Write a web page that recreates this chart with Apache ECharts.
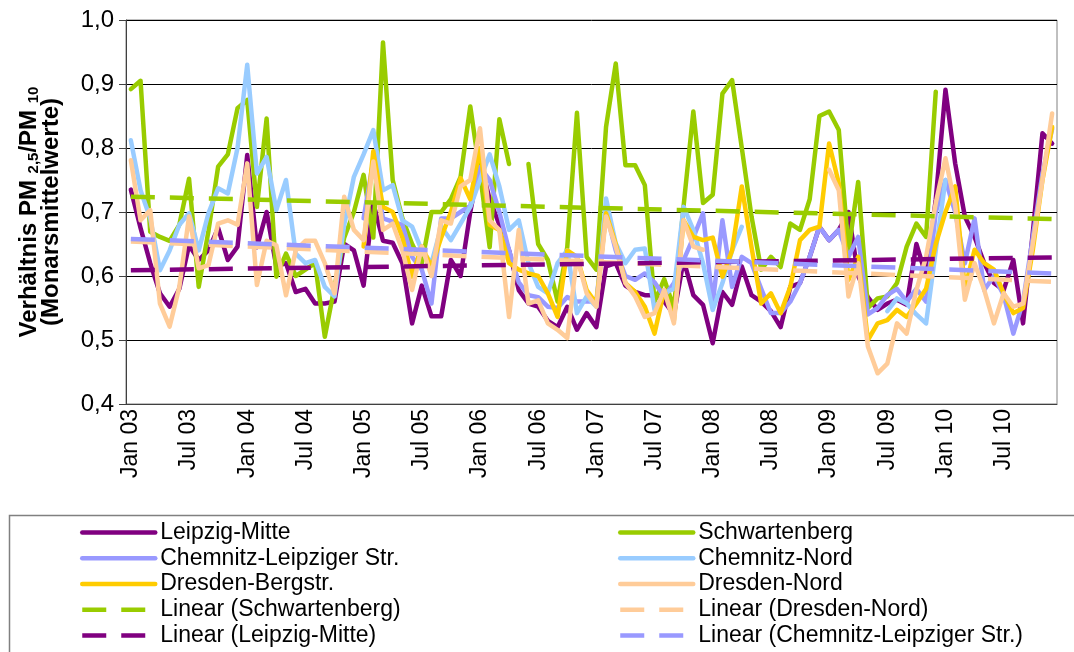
<!DOCTYPE html>
<html>
<head>
<meta charset="utf-8">
<script src="https://cdn.jsdelivr.net/npm/echarts@6/dist/echarts.min.js"></script>
<style>
  html, body { margin: 0; padding: 0; background: #fff; }
  #chart { width: 1074px; height: 652px; }
</style>
</head>
<body>
<div id="chart"></div>
<script>
// Monthly categories Jan 03 .. Dez 10
const monthNames = ['Jan', 'Feb', 'Mrz', 'Apr', 'Mai', 'Jun', 'Jul', 'Aug', 'Sep', 'Okt', 'Nov', 'Dez'];
const yearLabels = ['03', '04', '05', '06', '07', '08', '09', '10'];
const categories = [];
yearLabels.forEach(function (y) { monthNames.forEach(function (m) { categories.push(m + ' ' + y); }); });

// y-axis range of the ratio
const yMin = 0.4;
const yMax = 1.0;
const yStep = 0.1;

// PM2.5/PM10 monthly ratios per station (one row per year)
const leipzigMitte = [
  0.735, 0.675, 0.62, 0.573, 0.552, 0.58, 0.648, 0.625, 0.64, 0.675, 0.625, 0.646,
  0.789, 0.645, 0.70, 0.615, 0.62, 0.575, 0.58, 0.557, 0.557, 0.56, 0.65, 0.64,
  0.585, 0.714, 0.655, 0.652, 0.62, 0.526, 0.585, 0.537, 0.537, 0.625, 0.60, 0.70,
  0.78, 0.72, 0.68, 0.64, 0.578, 0.557, 0.552, 0.53, 0.52, 0.552, 0.516, 0.542,
  0.52, 0.615, 0.62, 0.585, 0.575, 0.57, 0.57, 0.56, 0.54, 0.625, 0.57, 0.555,
  0.495, 0.575, 0.555, 0.615, 0.57, 0.56, 0.545, 0.52, 0.583, 0.589, 0.63, 0.677,
  0.656, 0.672, 0.70, 0.60, 0.567, 0.547, 0.557, 0.563, 0.555, 0.65, 0.60, 0.72,
  0.891, 0.776, 0.693, 0.661, 0.62, 0.589, 0.578, 0.625, 0.526, 0.667, 0.823, 0.807
];
const schwartenberg = [
  0.892, 0.905, 0.669, 0.661, 0.655, 0.68, 0.752, 0.583, 0.67, 0.771, 0.79, 0.862,
  0.875, 0.708, 0.846, 0.599, 0.635, 0.60, 0.61, 0.62, 0.505, 0.583, 0.66, 0.70,
  0.758, 0.66, 0.965, 0.75, 0.69, 0.65, 0.62, 0.70, 0.70, 0.72, 0.755, 0.865,
  0.76, 0.645, 0.845, 0.775, null, 0.775, 0.65, 0.625, 0.56, 0.645, 0.855, 0.63,
  0.61, 0.833, 0.932, 0.773, 0.773, 0.742, 0.56, 0.595, 0.55, 0.71, 0.857, 0.714,
  0.727, 0.885, 0.906, 0.80, 0.693, 0.61, 0.63, 0.614, 0.682, 0.672, 0.72, 0.85,
  0.857, 0.828, 0.64, 0.747, 0.55, 0.565, 0.568, 0.589, 0.646, 0.682, 0.661, 0.888,
  null, null, null, null, null, null, null, null, null, null, null, null
];
const chemnitzLeipzigerStr = [
  null, null, null, null, null, null, null, null, null, null, null, null,
  null, null, null, null, null, null, null, null, null, null, null, null,
  0.69, 0.78, 0.69, 0.685, 0.68, 0.63, 0.61, 0.557, 0.69, 0.69, 0.70, 0.71,
  0.77, 0.75, 0.70, 0.64, 0.59, 0.57, 0.567, 0.552, 0.55, 0.567, 0.56, 0.56,
  0.56, 0.70, 0.64, 0.60, 0.594, 0.604, 0.59, 0.568, 0.589, 0.625, 0.66, 0.698,
  0.557, 0.687, 0.583, 0.63, 0.62, 0.58, 0.542, 0.542, 0.56, 0.589, 0.63, 0.677,
  0.656, 0.672, 0.63, 0.661, 0.54, 0.55, 0.57, 0.58, 0.56, 0.58, 0.56, 0.70,
  0.75, 0.70, 0.62, 0.69, 0.578, 0.60, 0.57, 0.51, 0.56, 0.66, 0.76, 0.83
];
const chemnitzNord = [
  0.812, 0.734, 0.69, 0.609, 0.64, 0.68, 0.698, 0.64, 0.698, 0.737, 0.729, 0.80,
  0.93, 0.76, 0.786, 0.703, 0.75, 0.635, 0.62, 0.625, 0.583, 0.568, 0.68, 0.755,
  0.79, 0.828, 0.734, 0.742, 0.687, 0.677, 0.64, 0.62, 0.677, 0.656, 0.682, 0.708,
  0.75, 0.79, 0.74, 0.672, 0.687, 0.62, 0.583, 0.573, 0.62, 0.64, 0.542, 0.568,
  0.552, 0.721, 0.651, 0.62, 0.641, 0.643, 0.547, 0.573, 0.58, 0.708, 0.672, 0.62,
  0.547, 0.589, 0.64, 0.677, null, null, null, null, null, null, null, null,
  null, null, null, null, null, null, 0.545, 0.565, 0.557, 0.54, 0.526, 0.64,
  0.75, null, null, null, null, null, null, null, null, null, null, null
];
const dresdenBergstr = [
  null, null, null, null, null, null, null, null, null, null, null, null,
  null, null, null, null, null, null, null, null, null, null, null, null,
  0.646, 0.795, 0.708, 0.70, 0.66, 0.599, 0.646, 0.614, 0.66, 0.70, 0.753, 0.72,
  0.80, 0.68, 0.672, 0.62, 0.61, 0.604, 0.60, 0.573, 0.536, 0.64, 0.63, 0.578,
  0.557, 0.698, 0.65, 0.589, 0.575, 0.552, 0.51, 0.578, 0.531, 0.687, 0.661, 0.656,
  0.66, 0.599, 0.64, 0.74, 0.645, 0.557, 0.573, 0.542, 0.583, 0.656, 0.672, 0.677,
  0.807, 0.745, 0.594, 0.63, 0.50, 0.526, 0.531, 0.547, 0.536, 0.557, 0.58, 0.65,
  0.70, 0.74, 0.58, 0.641, 0.62, 0.61, 0.573, 0.542, 0.55, 0.64, 0.75, 0.833
];
const dresdenNord = [
  0.781, 0.687, 0.703, 0.557, 0.521, 0.583, 0.693, 0.612, 0.617, 0.682, 0.687, 0.68,
  0.776, 0.586, 0.655, 0.648, 0.57, 0.64, 0.655, 0.655, 0.62, 0.573, 0.724, 0.672,
  0.656, 0.779, 0.672, 0.682, 0.64, 0.578, 0.646, 0.60, 0.687, 0.682, 0.74, 0.75,
  0.831, 0.687, 0.672, 0.536, 0.672, 0.557, 0.562, 0.526, 0.516, 0.503, 0.63, 0.573,
  0.552, 0.693, 0.646, 0.589, 0.568, 0.536, 0.542, 0.578, 0.526, 0.687, 0.646, 0.641,
  null, null, null, null, null, null, null, null, null, null, null, null,
  0.766, 0.734, 0.568, 0.62, 0.49, 0.448, 0.463, 0.526, 0.51, 0.578, 0.63, 0.714,
  0.784, 0.71, 0.563, 0.62, 0.578, 0.526, 0.573, 0.552, 0.557, 0.65, 0.75, 0.854
];

// Linear trends: value at the first and at the last month
const trendSchwartenberg = [0.724, 0.689];
const trendDresdenNord = [0.654, 0.591];
const trendLeipzigMitte = [0.609, 0.629];
const trendChemnitzLeipzigerStr = [0.658, 0.604];

// Legend entries, row by row, left column then right column
const legendLeft = ['Leipzig-Mitte', 'Chemnitz-Leipziger Str.', 'Dresden-Bergstr.', 'Linear (Schwartenberg)', 'Linear (Leipzig-Mitte)'];
const legendRight = ['Schwartenberg', 'Chemnitz-Nord', 'Dresden-Nord', 'Linear (Dresden-Nord)', 'Linear (Chemnitz-Leipziger Str.)'];

const FONT = '"Liberation Sans", Arial, sans-serif';
const lastIndex = categories.length - 1;

function station(name, data, color) {
  return {
    name: name, type: 'line', data: data, symbol: 'none', connectNulls: false,
    lineStyle: { color: color, width: 4.5, cap: 'round', join: 'round' },
    itemStyle: { color: color }, z: 2
  };
}
function trend(name, ends, color) {
  return {
    name: name, type: 'line', symbol: 'none',
    data: [[0, ends[0]], [lastIndex, ends[1]]],
    lineStyle: { color: color, width: 4.5, type: [24, 15] },
    itemStyle: { color: color }, z: 3
  };
}

// one legend block per entry so that rows keep a fixed pitch
const LEGEND_TOP = 521;
const LEGEND_PITCH = 25.75;
function legendEntry(left, row, name) {
  return {
    orient: 'horizontal', left: left, top: LEGEND_TOP + row * LEGEND_PITCH, padding: 0,
    itemWidth: 73, itemHeight: 20,
    selectedMode: false,
    itemStyle: { opacity: 0 },
    lineStyle: { width: 4.5 },
    textStyle: { fontSize: 23, fontFamily: FONT, color: '#000', lineHeight: 20 },
    data: [name]
  };
}
const legends = [];
legendLeft.forEach(function (n, r) { legends.push(legendEntry(80, r, n)); });
legendRight.forEach(function (n, r) { legends.push(legendEntry(618, r, n)); });

const option = {
  animation: false,
  backgroundColor: '#fff',
  grid: {
    left: 126, right: 17, top: 20, bottom: 248,
    show: true, borderColor: '#808080', borderWidth: 1, backgroundColor: 'transparent'
  },
  xAxis: {
    type: 'category', data: categories, boundaryGap: true,
    axisLine: { lineStyle: { color: '#404040', width: 1 } },
    axisTick: { interval: 5, length: 6, lineStyle: { color: '#404040' } },
    axisLabel: { interval: 5, rotate: 90, margin: 5, fontSize: 23, fontFamily: FONT, color: '#000' },
    splitLine: { show: false }
  },
  yAxis: {
    type: 'value', min: yMin, max: yMax, interval: yStep,
    axisLine: { show: true, lineStyle: { color: '#404040', width: 1 } },
    axisTick: { show: true, length: 7, lineStyle: { color: '#404040' } },
    axisLabel: {
      margin: 12, fontSize: 24, fontFamily: FONT, color: '#000',
      formatter: function (v) { return v.toFixed(1).replace('.', ','); }
    },
    splitLine: { lineStyle: { color: '#000', width: 1 } },
    name: '{a|Verhältnis PM }{s|2,5}{a|/PM }{s|10}\n{a|(Monarsmittelwerte)}',
    nameLocation: 'middle', nameRotate: 90, nameGap: 64,
    nameTextStyle: {
      align: 'center',
      rich: {
        a: { fontSize: 24, fontWeight: 'bold', fontFamily: FONT, color: '#000', lineHeight: 22 },
        s: { fontSize: 15, fontWeight: 'bold', fontFamily: FONT, color: '#000', lineHeight: 22, padding: [10, 0, 0, 0] }
      }
    }
  },
  legend: legends,
  graphic: [{
    type: 'rect', left: 7, top: 513, silent: true,
    shape: { width: 1090, height: 160 },
    style: { fill: 'none', stroke: '#808080', lineWidth: 1.5 }
  }],
  series: [
    station('Leipzig-Mitte', leipzigMitte, '#800080'),
    station('Schwartenberg', schwartenberg, '#99CC00'),
    station('Chemnitz-Leipziger Str.', chemnitzLeipzigerStr, '#9999FF'),
    station('Chemnitz-Nord', chemnitzNord, '#99CCFF'),
    station('Dresden-Bergstr.', dresdenBergstr, '#FFCC00'),
    station('Dresden-Nord', dresdenNord, '#FFCC99'),
    trend('Linear (Schwartenberg)', trendSchwartenberg, '#99CC00'),
    trend('Linear (Dresden-Nord)', trendDresdenNord, '#FFCC99'),
    trend('Linear (Leipzig-Mitte)', trendLeipzigMitte, '#800080'),
    trend('Linear (Chemnitz-Leipziger Str.)', trendChemnitzLeipzigerStr, '#9999FF')
  ]
};

const chart = echarts.init(document.getElementById('chart'), null, { renderer: 'canvas' });
chart.setOption(option);
</script>
</body>
</html>
